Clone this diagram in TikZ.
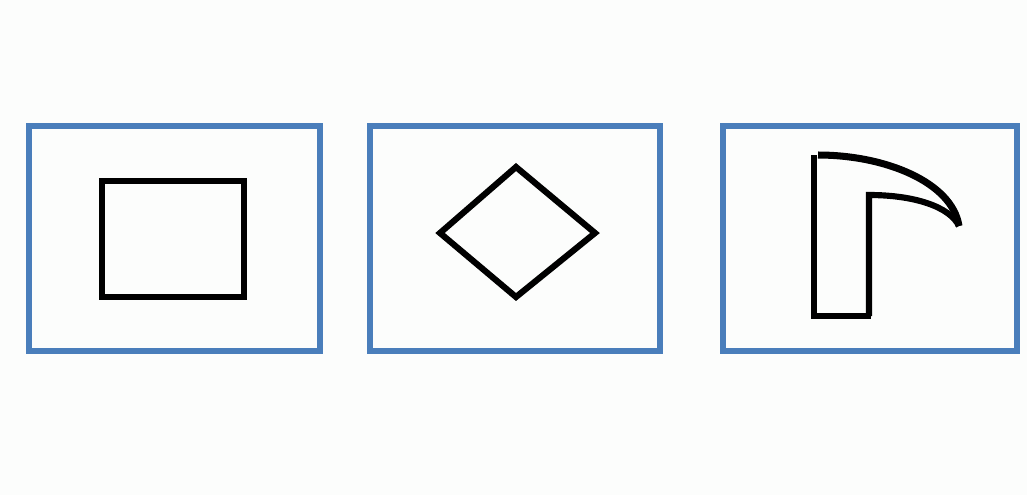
\documentclass[tikz,border=0pt]{standalone}
\usepackage{xcolor}
\usepackage{tikz}
\definecolor{frameblue}{HTML}{4A7EBB}
\definecolor{paper}{HTML}{FCFDFC}
\tikzset{
    panel/.style={draw=frameblue, line width=3.6pt},
    outline/.style={draw=black, line width=3.5pt},
}

\begin{document}
\begin{tikzpicture}[x=0.02cm, y=-0.02cm]
            \fill[paper] (0,0) rectangle (1027,495);
            \useasboundingbox (0,0) rectangle (1027,495);
            % panels
            \draw[panel] (29,126) rectangle (320,351);
            \draw[panel] (370,126) rectangle (660,351);
            \draw[panel] (723,126) rectangle (1017,351);
            % rectangle
            \draw[outline] (102,181) rectangle (244,297);
            % diamond
            \draw[outline, line join=miter] (516,167) -- (595,233) -- (516,297) -- (440,233) -- cycle;
            % hook
            \draw[outline] (869,316) -- (869,195) .. controls (915,195) and (950,207) .. (959,226);
            \draw[outline] (814,316) -- (814,155);
            \draw[outline] (811,316) -- (871,316);
            \draw[outline, line width=4pt] (818,155) .. controls (885,155) and (952,182) .. (959,226);
\end{tikzpicture}
\end{document}
